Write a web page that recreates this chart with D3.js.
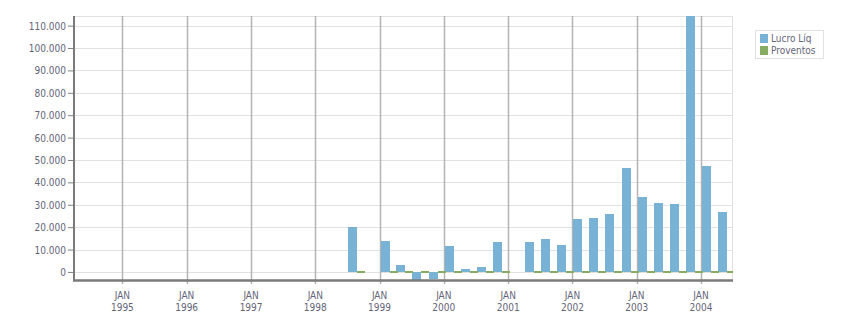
<!DOCTYPE html>
<html>
<head>
<meta charset="utf-8">
<script src="https://cdn.jsdelivr.net/npm/d3@7"></script>
<style>
  body { margin: 0; background: #fff; }
  text { font-family: "DejaVu Sans Condensed", "DejaVu Sans", sans-serif; font-size: 10px; fill: #656578; }
</style>
</head>
<body>
<svg id="chart" width="851" height="313"></svg>
<script>
// quarterly data
var quarters = ["1998-07", "1998-10", "1999-01", "1999-04", "1999-07", "1999-10",
  "2000-01", "2000-04", "2000-07", "2000-10", "2001-01", "2001-04", "2001-07", "2001-10",
  "2002-01", "2002-04", "2002-07", "2002-10", "2003-01", "2003-04", "2003-07", "2003-10",
  "2004-01", "2004-04"];
var lucroLiq = [20100, null, 13800, 3100, -4000, -3100,
  11600, 1300, 2200, 13400, null, 13400, 14700, 12000,
  23700, 24100, 25900, 46400, 33500, 30800, 30400, 118000,
  47300, 26800];
var proventos = [500, null, 500, 500, 500, 500,
  500, 500, 500, 500, null, 500, 500, 500,
  500, 500, 500, 500, 500, 500, 500, 500,
  500, 500];
var seriesNames = ["Lucro Líq", "Proventos"];
var seriesColors = ["#78b2d4", "#86ad62"];
var yTicks = [0, 10000, 20000, 30000, 40000, 50000, 60000, 70000, 80000, 90000, 100000, 110000];
var yearTicks = [1995, 1996, 1997, 1998, 1999, 2000, 2001, 2002, 2003, 2004];

var margin = {top: 16, right: 118, bottom: 33, left: 74};
var width = 851 - margin.left - margin.right,
    height = 313 - margin.top - margin.bottom;

var parseQ = d3.timeParse("%Y-%m");
var data = quarters.map(function(q, i) {
  return {date: parseQ(q), lucro: lucroLiq[i], prov: proventos[i]};
});

var xScale = d3.scaleTime()
  .domain([new Date(1994, 3, 1), new Date(2004, 6, 1)])
  .range([0, width]);
var yScale = d3.scaleLinear()
  .domain([-3600, 114300])
  .range([height, 0]);

var locale = d3.formatLocale({decimal: ",", thousands: ".", grouping: [3], currency: ["", ""]});
var fmt = locale.format(",d");

var svg = d3.select("#chart").append("g")
  .attr("transform", "translate(" + margin.left + "," + margin.top + ")");

svg.append("defs").append("clipPath").attr("id", "plot-clip")
  .append("rect").attr("width", width).attr("height", height);

// horizontal grid
svg.append("g").selectAll("line").data(yTicks).enter().append("line")
  .attr("x1", 0).attr("x2", width)
  .attr("y1", d => Math.round(yScale(d)) + 0.5).attr("y2", d => Math.round(yScale(d)) + 0.5)
  .attr("stroke", "#e1e1e1");

// plot border top/right
svg.append("line").attr("x1", 0).attr("x2", width).attr("y1", 0.5).attr("y2", 0.5).attr("stroke", "#e1e1e1");
svg.append("line").attr("x1", width - 0.5).attr("x2", width - 0.5).attr("y1", 0).attr("y2", height).attr("stroke", "#e1e1e1");

// vertical year grid
var yearDates = yearTicks.map(y => new Date(y, 0, 1));
svg.append("g").selectAll("line").data(yearDates).enter().append("line")
  .attr("x1", d => Math.round(xScale(d)) + 0.5).attr("x2", d => Math.round(xScale(d)) + 0.5)
  .attr("y1", 0).attr("y2", height + 4)
  .attr("stroke", "#b4b4b4").attr("stroke-width", 1.5);

// bars
var bars = svg.append("g").attr("clip-path", "url(#plot-clip)").attr("shape-rendering", "crispEdges");
function qWidth(d) { return xScale(d3.timeMonth.offset(d.date, 3)) - xScale(d.date); }

bars.selectAll(".lucro").data(data.filter(d => d.lucro !== null)).enter().append("rect")
  .attr("class", "lucro")
  .attr("x", d => Math.round(xScale(d.date)) + 1)
  .attr("width", d => Math.round(qWidth(d) * 0.56))
  .attr("y", d => yScale(Math.max(0, d.lucro)))
  .attr("height", d => Math.abs(yScale(d.lucro) - yScale(0)))
  .attr("fill", seriesColors[0]);

// proventos are tiny: snap them onto the zero line so they show as a thin green strip
var y0 = Math.round(yScale(0));
bars.selectAll(".prov").data(data.filter(d => d.prov !== null)).enter().append("rect")
  .attr("class", "prov")
  .attr("x", d => Math.round(xScale(d.date)) + 1 + Math.round(qWidth(d) * 0.56))
  .attr("width", d => Math.round(qWidth(d) * 0.48))
  .attr("y", d => Math.min(y0, Math.round(yScale(d.prov))))
  .attr("height", d => y0 + 1 - Math.min(y0, Math.round(yScale(d.prov))))
  .attr("fill", seriesColors[1]);

// y axis
var yAxis = d3.axisLeft(yScale).tickValues(yTicks).tickFormat(fmt).tickSize(6).tickPadding(2);
var yg = svg.append("g").call(yAxis);
yg.select(".domain").remove();
yg.selectAll(".tick line").attr("stroke", "#808080");
yg.selectAll("text").attr("dy", "0.35em");
svg.append("line").attr("x1", 0).attr("x2", 0).attr("y1", 0).attr("y2", height)
  .attr("stroke", "#7a7a7a").attr("stroke-width", 2);

// x axis line
svg.append("line").attr("x1", -1).attr("x2", width).attr("y1", height + 0.5).attr("y2", height + 0.5)
  .attr("stroke", "#7a7a7a").attr("stroke-width", 2.5);

// x labels
var xl = svg.append("g").selectAll("text").data(yearDates).enter().append("text")
  .attr("x", d => xScale(d))
  .attr("y", height + 19)
  .attr("text-anchor", "middle");
xl.append("tspan").attr("x", d => xScale(d)).text("JAN");
xl.append("tspan").attr("x", d => xScale(d)).attr("dy", 12).text(d => d.getFullYear());

// legend
var legend = d3.select("#chart").append("g").attr("transform", "translate(755,30)");
legend.append("rect").attr("x", 0.5).attr("y", 0.5).attr("width", 68).attr("height", 28)
  .attr("fill", "#fff").attr("stroke", "#e1e1e1");
seriesNames.forEach(function(name, i) {
  legend.append("rect").attr("x", 5).attr("y", 4 + i * 12).attr("width", 8).attr("height", 9)
    .attr("fill", seriesColors[i]);
  legend.append("text").attr("x", 16).attr("y", 12 + i * 12).text(name);
});
</script>
</body>
</html>
